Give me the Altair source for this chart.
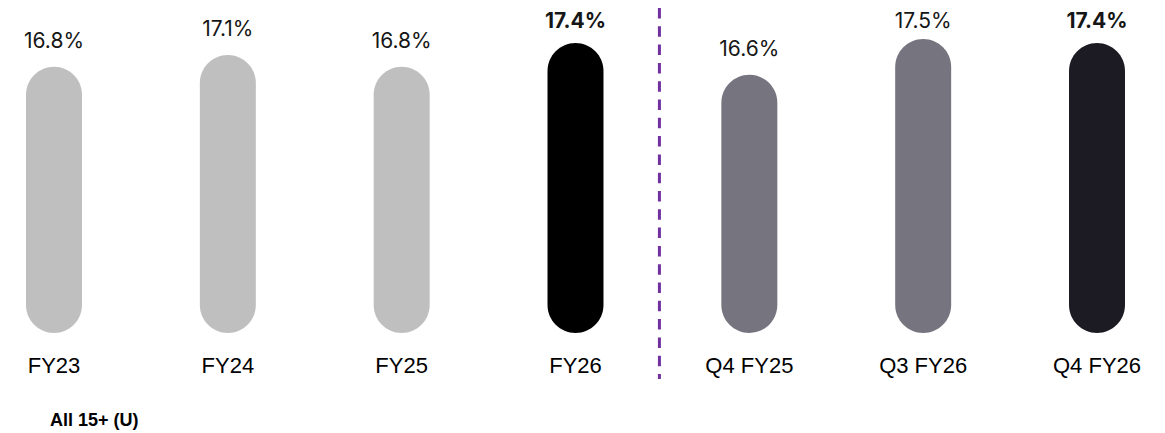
import altair as alt
import pandas as pd

categories = ["FY23", "FY24", "FY25", "FY26", "Q4 FY25", "Q3 FY26", "Q4 FY26"]
values = [16.8, 17.1, 16.8, 17.4, 16.6, 17.5, 17.4]
labels = ["16.8%", "17.1%", "16.8%", "17.4%", "16.6%", "17.5%", "17.4%"]
bold = [False, False, False, True, False, False, True]
bar_colors = ["#BFBFBF", "#BFBFBF", "#BFBFBF", "#000000", "#75747F", "#75747F", "#1C1B23"]
footnote = ["All 15+ (U)"]

df = pd.DataFrame({"cat": categories, "value": values, "label": labels, "bold": bold})
note_df = pd.DataFrame({"note": footnote})

W = 1135
H = 325
pad_inner = 0.678
pad_outer = 0.1036
step = W / (len(categories) - pad_inner + 2 * pad_outer)
ymin, ymax = 10.1, 18.28

xscale = alt.Scale(domain=categories, paddingInner=pad_inner, paddingOuter=pad_outer)
yscale = alt.Scale(domain=[ymin, ymax], nice=False, zero=False)

x_enc = alt.X("cat:N", scale=xscale, sort=categories,
              axis=alt.Axis(title=None, domain=False, ticks=False, tickSize=0,
                            labelAngle=0, labelFont="Liberation Sans", labelFontSize=22,
                            labelColor="#000000", labelPadding=39,
                            labelBaseline="alphabetic"))

bars = alt.Chart(df).mark_bar(cornerRadius=28).encode(
    x=x_enc,
    y=alt.Y("value:Q", scale=yscale, axis=None),
    y2=alt.datum(ymin),
    color=alt.Color("cat:N", scale=alt.Scale(domain=categories, range=bar_colors), legend=None),
)

def value_text(filter_expr, dy, weight):
    return alt.Chart(df).transform_filter(filter_expr).mark_text(
        font="Inter", fontSize=21, fontWeight=weight, baseline="alphabetic",
        dy=dy, color="#161616"
    ).encode(x=alt.X("cat:N", sort=categories), y=alt.Y("value:Q"), text="label:N")

txt_low = value_text("!datum.bold && datum.value < 17.4", -19, "normal")
txt_high = value_text("!datum.bold && datum.value >= 17.4", -11, "normal")
txt_bold = value_text("datum.bold", -15, "bold")

rule = alt.Chart(df).transform_filter("datum.cat == 'Q4 FY25'").mark_rule(
    color="#7030A0", strokeWidth=3, strokeDash=[10.5, 7.8], xOffset=-step / 2 - 3
).encode(x=alt.X("cat:N", sort=categories), y=alt.value(0), y2=alt.value(371))

note = alt.Chart(note_df).mark_text(
    font="Liberation Sans", fontSize=18, fontWeight="bold", align="left",
    baseline="alphabetic", color="#000000"
).encode(x=alt.value(42), y=alt.value(418), text="note:N")

chart = alt.layer(bars, txt_low, txt_high, txt_bold, rule, note).properties(
    width=W, height=H,
    autosize=alt.AutoSizeParams(type="none"),
    padding={"left": 0, "top": 0, "right": 0, "bottom": 100},
).configure_view(stroke=None)

chart.save("out.html", embed_options={"renderer": "svg", "actions": False})
